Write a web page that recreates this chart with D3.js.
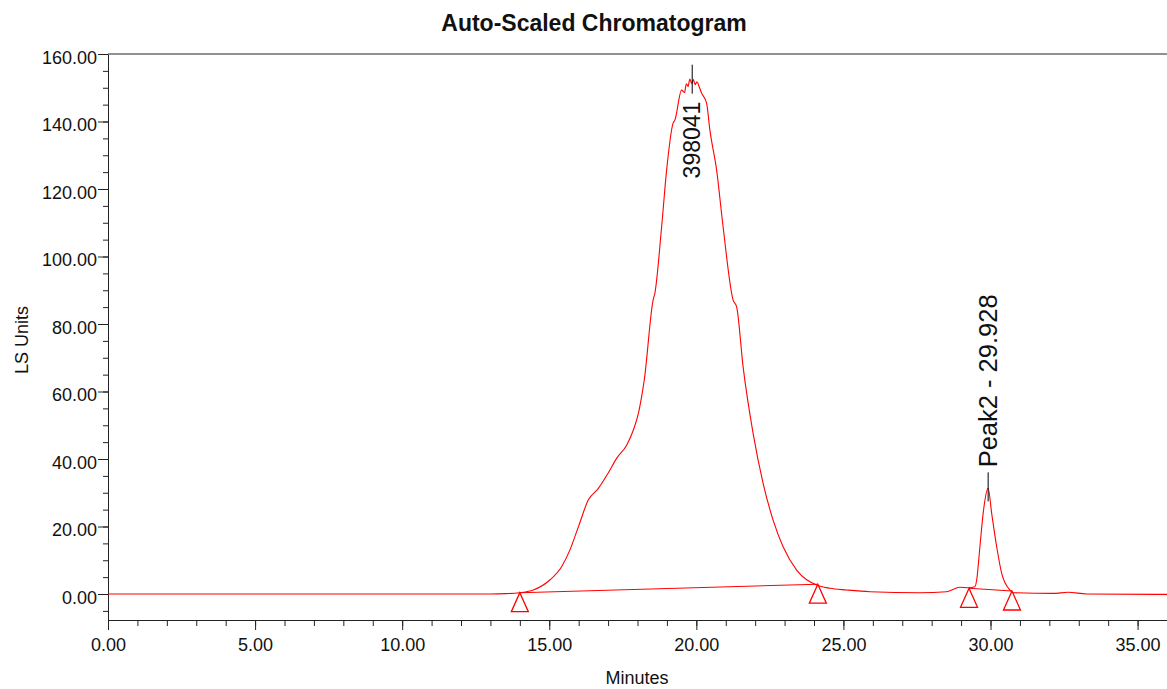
<!DOCTYPE html>
<meta charset="utf-8">
<script src="https://d3js.org/d3.v7.min.js"></script>
<style>

body {
  margin: 0;
  background: #fff;
}

svg text {
  font-family: "Liberation Sans", Arial, sans-serif;
  fill: #111;
}

.title {
  font-size: 23px;
  font-weight: 700;
  text-anchor: middle;
}

.axis-label {
  font-size: 18px;
  text-anchor: middle;
}

.tick text {
  font-size: 18px;
  fill: #111;
}

.axis path,
.axis line {
  stroke: #222;
}

.trace {
  fill: none;
  stroke: #ff0000;
  stroke-width: 1.1;
  stroke-linejoin: round;
}

.baseline {
  stroke: #ff0000;
  stroke-width: 1.1;
}

.marker {
  fill: none;
  stroke: #ff0000;
  stroke-width: 1.3;
}

.peak-line {
  stroke: #000;
  stroke-width: 1;
}

</style>
<body>
<div id="chart"></div>
<script type="text/javascript">

// Trace: retention time (min) and detector signal (LS units)
var times = [0, 5, 10, 13.0, 13.5, 14.00, 14.46, 15.02, 15.42, 15.70, 15.99, 16.33, 16.67, 17.00, 17.29,
  17.63, 17.86, 18.03, 18.14, 18.23, 18.53, 18.59, 18.82, 18.99, 19.21, 19.27, 19.50, 19.60, 19.66,
  19.72, 19.78, 19.84, 19.90, 19.96, 20.02, 20.10, 20.18, 20.35, 20.46, 20.69, 20.91, 21.25, 21.37,
  21.59, 21.93, 22.27, 22.61, 22.95, 23.41, 24.09, 24.54, 25.11, 25.90, 27.60, 28.51, 28.96, 29.24,
  29.47, 29.53, 29.64, 29.75, 29.92, 30.04, 30.21, 30.38, 30.66, 30.77, 32.13, 32.64, 33.27, 36.0];
var signal = [0, 0, 0, 0.02, 0.1, 0.39, 1.19, 4.15, 8.09, 13.0, 19.9, 27.9, 31.3, 35.8, 40.2,
  44.1, 48.6, 53.5, 58.5, 63.4, 87.1, 89.1, 108.8, 125.6, 139.5, 140.4, 149.3, 148.6, 151.2,
  150.4, 152.6, 151.3, 152.4, 150.9, 151.8, 150.2, 148.4, 145.4, 137.5, 125.6, 108.8, 87.1, 85.1,
  67.3, 47.6, 32.8, 21.9, 14.0, 7.1, 2.67, 1.69, 1.19, 0.68, 0.39, 0.68, 1.99, 1.87,
  2.16, 4.15, 14.0, 23.9, 31.3, 23.9, 14.0, 6.1, 1.19, 0.39, 0.2, 0.5, 0.0, -0.1];

// Integration baselines (start / end of each peak)
var baseStart = [[14.00, 0.39], [29.27, 1.69]];
var baseEnd = [[24.13, 2.9], [30.73, 0.89]];

// Peak annotations
var peakTimes = [19.86, 29.92];
var peakHeights = [152.1, 31.3];
var peakLabels = ["398041", "Peak2 - 29.928"];

// Axis ticks
var xTicks = [0, 5, 10, 15, 20, 25, 30, 35];
var xMinor = d3.range(0, 37, 1);
var yTicks = [0, 20, 40, 60, 80, 100, 120, 140, 160];
var yMinor = d3.range(-5, 161, 5);

var margin = {top: 54, right: 0, bottom: 69, left: 108},
    width = 1167 - margin.left - margin.right,
    height = 689 - margin.top - margin.bottom;

var x = d3.scaleLinear()
    .domain([0, 36])
    .range([0, width]);

var y = d3.scaleLinear()
    .domain([-7.7, 160])
    .range([height, 0]);

var svg = d3.select("#chart").append("svg")
    .attr("width", width + margin.left + margin.right)
    .attr("height", height + margin.top + margin.bottom)
  .append("g")
    .attr("transform", "translate(" + margin.left + "," + margin.top + ")");

// Title
svg.append("text")
    .attr("class", "title")
    .attr("x", 594 - margin.left)
    .attr("y", 31 - margin.top)
    .text("Auto-Scaled Chromatogram");

// Frame top line
svg.append("line")
    .attr("x1", 0).attr("x2", width)
    .attr("y1", 0).attr("y2", 0)
    .attr("stroke", "#222");

// Minor ticks
svg.append("g")
    .attr("class", "axis")
    .attr("transform", "translate(0," + height + ")")
    .call(d3.axisBottom(x).tickValues(xMinor).tickSize(6).tickFormat(""))
    .select(".domain").remove();

svg.append("g")
    .attr("class", "axis")
    .call(d3.axisLeft(y).tickValues(yMinor).tickSize(5).tickFormat(""))
    .select(".domain").remove();

// Major axes
svg.append("g")
    .attr("class", "axis")
    .attr("transform", "translate(0," + height + ")")
    .call(d3.axisBottom(x).tickValues(xTicks).tickSize(10).tickPadding(8).tickSizeOuter(0)
      .tickFormat(d3.format(".2f")));

var yAxis = svg.append("g")
    .attr("class", "axis")
    .call(d3.axisLeft(y).tickValues(yTicks).tickSize(10).tickPadding(1).tickSizeOuter(0)
      .tickFormat(d3.format(".2f")));
yAxis.selectAll(".tick text").attr("dy", "0.5em");

// Axis titles
svg.append("text")
    .attr("class", "axis-label")
    .attr("x", 637 - margin.left)
    .attr("y", height + 64)
    .text("Minutes");

svg.append("text")
    .attr("class", "axis-label")
    .attr("transform", "translate(" + (28 - margin.left) + "," + (340 - margin.top) + ") rotate(-90)")
    .text("LS Units");

// Trace
var points = times.map(function(t, i) { return [t, signal[i]]; });

var line = d3.line()
    .x(function(d) { return x(d[0]); })
    .y(function(d) { return y(d[1]); })
    .curve(d3.curveMonotoneX);

svg.append("path")
    .datum(points)
    .attr("class", "trace")
    .attr("d", line);

// Baselines
svg.selectAll(".baseline")
    .data(baseStart)
  .enter().append("line")
    .attr("class", "baseline")
    .attr("x1", function(d) { return x(d[0]); })
    .attr("y1", function(d) { return y(d[1]); })
    .attr("x2", function(d, i) { return x(baseEnd[i][0]); })
    .attr("y2", function(d, i) { return y(baseEnd[i][1]); });

// Triangle markers at the peak start/end points
var markers = baseStart.concat(baseEnd);
svg.selectAll(".marker")
    .data(markers)
  .enter().append("path")
    .attr("class", "marker")
    .attr("transform", function(d) { return "translate(" + x(d[0]) + "," + y(d[1]) + ")"; })
    .attr("d", "M0,0L8.5,19L-8.5,19Z");

// Peak ticks and labels
svg.selectAll(".peak-line")
    .data(peakTimes)
  .enter().append("line")
    .attr("class", "peak-line")
    .attr("x1", function(d) { return x(d); })
    .attr("x2", function(d) { return x(d); })
    .attr("y1", function(d, i) { return y(peakHeights[i]) - 16; })
    .attr("y2", function(d, i) { return y(peakHeights[i]) + 13; });

svg.selectAll(".peak-label")
    .data(peakTimes)
  .enter().append("text")
    .attr("class", "peak-label")
    .attr("transform", function(d, i) {
      var off = i === 0 ? 21 : -21;
      return "translate(" + x(d) + "," + (y(peakHeights[i]) + off) + ") rotate(-90)";
    })
    .attr("dy", "0.36em")
    .style("font-size", function(d, i) { return i === 0 ? "23px" : "25.5px"; })
    .attr("text-anchor", function(d, i) { return i === 0 ? "end" : "start"; })
    .text(function(d, i) { return peakLabels[i]; });

</script>
</body>
</html>
